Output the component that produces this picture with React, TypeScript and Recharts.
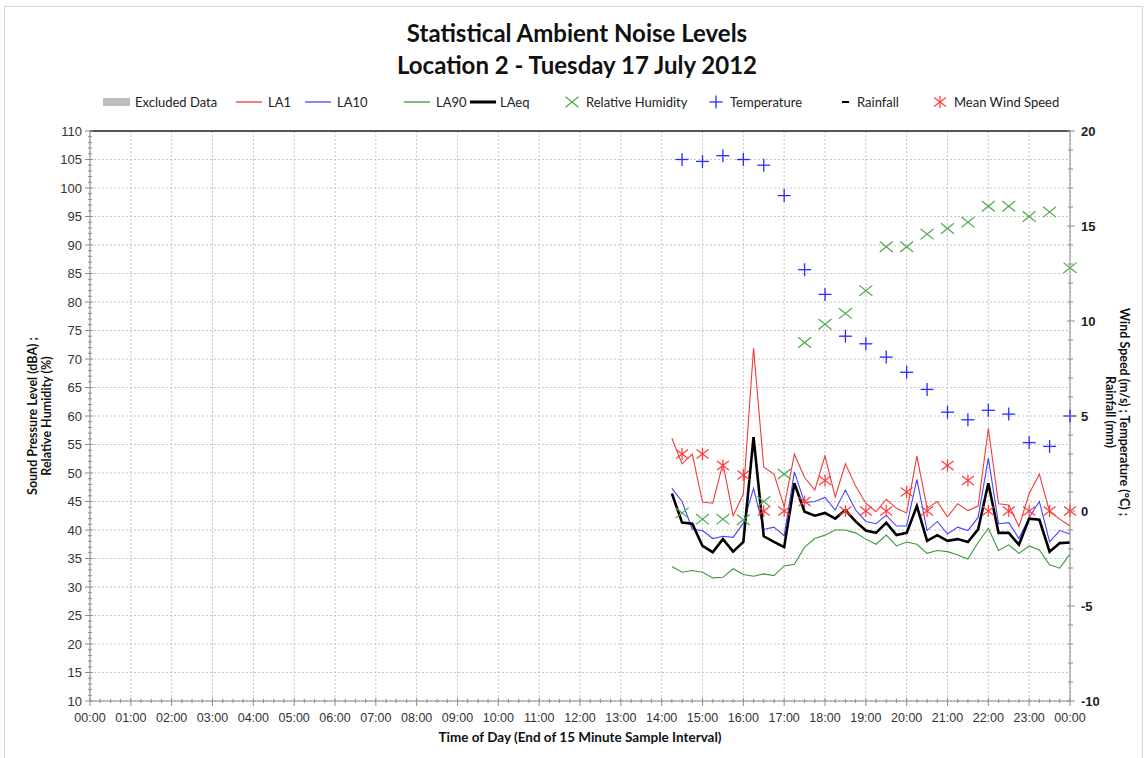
import React from "react";
import { ComposedChart, Line, Scatter, XAxis, YAxis, CartesianGrid, ReferenceLine } from "recharts";

// ---- Data ----
const noiseTimes = [
  "14:15", "14:30", "14:45", "15:00", "15:15", "15:30", "15:45", "16:00", "16:15", "16:30",
  "16:45", "17:00", "17:15", "17:30", "17:45", "18:00", "18:15", "18:30", "18:45", "19:00",
  "19:15", "19:30", "19:45", "20:00", "20:15", "20:30", "20:45", "21:00", "21:15", "21:30",
  "21:45", "22:00", "22:15", "22:30", "22:45", "23:00", "23:15", "23:30", "23:45", "24:00",
];
const la1 = [
  56.1, 51.6, 53.3, 44.9, 44.7, 51.7, 42.5, 46.3, 71.9, 51.0, 49.8, 44.1, 53.3, 49.2,
  47.0, 53.0, 45.8, 51.6, 47.7, 44.7, 43.2, 45.4, 43.8, 43.0, 53.0, 43.8, 45.0,
  42.3, 44.6, 43.4, 44.2, 57.8, 44.6, 44.4, 40.6, 46.4, 49.8, 43.2, 41.9, 40.7,
];
const la10 = [
  47.3, 45.0, 40.1, 39.9, 38.5, 38.9, 38.7, 41.2, 47.3, 40.1, 40.5, 39.0, 50.2, 44.8,
  45.0, 45.7, 43.5, 47.0, 43.5, 41.5, 41.1, 42.6, 40.7, 40.7, 48.9, 39.9, 41.5,
  39.3, 40.5, 39.9, 42.2, 52.6, 41.1, 41.3, 38.5, 42.2, 45.0, 37.9, 39.9, 39.3,
];
const la90 = [
  33.6, 32.6, 32.9, 32.6, 31.6, 31.7, 33.2, 32.2, 31.9, 32.3, 32.0, 33.7, 34.0, 37.0,
  38.5, 39.1, 40.0, 40.0, 39.5, 38.4, 37.5, 39.1, 37.2, 37.9, 37.5, 35.9, 36.4,
  36.2, 35.6, 34.9, 37.8, 40.3, 36.4, 37.4, 35.9, 37.2, 36.5, 33.9, 33.3, 35.8,
];
const laeq = [
  46.4, 41.3, 41.1, 37.2, 36.1, 38.4, 36.2, 37.9, 56.3, 38.9, 37.9, 37.0, 48.2, 43.2,
  42.5, 43.0, 42.0, 43.5, 41.5, 39.9, 39.5, 41.3, 39.1, 39.5, 44.2, 38.1, 39.1,
  38.1, 38.4, 37.9, 40.1, 48.2, 39.5, 39.5, 37.4, 42.0, 41.8, 36.2, 37.7, 37.8,
];

const weatherTimes = [
  "14:30", "15:00", "15:30", "16:00", "16:30", "17:00", "17:30", "18:00", "18:30", "19:00",
  "19:30", "20:00", "20:30", "21:00", "21:30", "22:00", "22:30", "23:00", "23:30", "24:00",
];
const humidity = [43.0, 41.9, 41.9, 41.8, 45.0, 49.8, 72.9, 76.1, 78.0, 82.0, 89.7, 89.7, 91.9, 92.9, 94.0, 96.8, 96.8, 95.0, 95.8, 86.0];
const temperature = [18.5, 18.4, 18.7, 18.5, 18.2, 16.6, 12.7, 11.4, 9.2, 8.8, 8.1, 7.3, 6.4, 5.2, 4.8, 5.3, 5.1, 3.6, 3.4, 5.0];
const windSpeed = [3.0, 3.0, 2.4, 1.9, 0.0, 0.0, 0.5, 1.6, 0.0, 0.0, 0.0, 1.0, 0.0, 2.4, 1.6, 0.0, 0.0, 0.0, 0.0, 0.0];

const hourLabels = [
  "00:00", "01:00", "02:00", "03:00", "04:00", "05:00", "06:00", "07:00", "08:00", "09:00",
  "10:00", "11:00", "12:00", "13:00", "14:00", "15:00", "16:00", "17:00", "18:00", "19:00",
  "20:00", "21:00", "22:00", "23:00", "00:00",
];

const toHours = (s: string) => {
  const [h, m] = s.split(":").map(Number);
  return h + m / 60;
};

const noiseData = noiseTimes.map((s, i) => ({
  t: toHours(s),
  la1: la1[i],
  la10: la10[i],
  la90: la90[i],
  laeq: laeq[i],
}));
const weatherData = weatherTimes.map((s, i) => ({
  t: toHours(s),
  rh: humidity[i],
  temp: temperature[i],
  wind: windSpeed[i],
}));

// axis tick positions
const xTicks: number[] = [];
for (let q = 0; q <= 96; q++) xTicks.push(q / 4);
const hourValues: number[] = [];
for (let h = 0; h <= 24; h++) hourValues.push(h);
const leftTicks: number[] = [];
for (let v = 10; v <= 110; v++) leftTicks.push(v);
const leftMajor: number[] = [];
for (let v = 10; v <= 110; v += 5) leftMajor.push(v);
const rightTicks: number[] = [];
for (let v = -10; v <= 20; v++) rightTicks.push(v);

const AXIS = "#8c8c8c";
const TICKFONT = "'Liberation Sans', Arial, sans-serif";
const CAL = "Lato, 'Open Sans', sans-serif";

const LA1_COLOR = "#ee3b3b";
const LA10_COLOR = "#4444ff";
const LA90_COLOR = "#3a9a3a";

const XTick = (props: any) => {
  const { x, y, payload } = props;
  const v = payload.value as number;
  const major = Math.abs(v - Math.round(v)) < 1e-6;
  if (!major) return <line x1={x} x2={x} y1={y - 2} y2={y + 2} stroke={AXIS} />;
  return (
    <g>
      <line x1={x} x2={x} y1={y - 3} y2={y + 5} stroke={AXIS} />
      <text x={x} y={y + 21} textAnchor="middle" fontSize={12.5} fill="#333" fontFamily={TICKFONT}>
        {hourLabels[Math.round(v)]}
      </text>
    </g>
  );
};

const LeftTick = (props: any) => {
  const { x, y, payload } = props;
  const v = payload.value as number;
  const major = v % 5 === 0;
  if (!major) return <line x1={x - 2} x2={x + 2} y1={y} y2={y} stroke={AXIS} />;
  return (
    <g>
      <line x1={x - 5} x2={x + 3} y1={y} y2={y} stroke={AXIS} />
      <text x={x - 8} y={y + 4.5} textAnchor="end" fontSize={13} fill="#333" fontFamily={TICKFONT}>
        {v}
      </text>
    </g>
  );
};

const RightTick = (props: any) => {
  const { x, y, payload } = props;
  const v = payload.value as number;
  const major = v % 5 === 0;
  if (!major) return <line x1={x - 2} x2={x + 3} y1={y} y2={y} stroke={AXIS} />;
  return (
    <g>
      <line x1={x - 3} x2={x + 5} y1={y} y2={y} stroke={AXIS} />
      <text x={x + 11} y={y + 4.5} textAnchor="start" fontSize={13} fontWeight="bold" fill="#222" fontFamily={TICKFONT}>
        {v}
      </text>
    </g>
  );
};

const RH_COLOR = "#4ea84e";
const T_COLOR = "#2b2bff";
const W_COLOR = "#ff3b3b";

const XMark = (p: any) => {
  const { cx, cy } = p;
  if (cx == null || cy == null) return null;
  const s = 6.5;
  return (
    <g stroke={RH_COLOR} strokeWidth={1.2}>
      <line x1={cx - s} y1={cy - s * 0.8} x2={cx + s} y2={cy + s * 0.8} />
      <line x1={cx - s} y1={cy + s * 0.8} x2={cx + s} y2={cy - s * 0.8} />
    </g>
  );
};
const PlusMark = (p: any) => {
  const { cx, cy } = p;
  if (cx == null || cy == null) return null;
  const s = 6.5;
  return (
    <g stroke={T_COLOR} strokeWidth={1.3}>
      <line x1={cx - s} y1={cy} x2={cx + s} y2={cy} />
      <line x1={cx} y1={cy - s} x2={cx} y2={cy + s} />
    </g>
  );
};
const StarMark = (p: any) => {
  const { cx, cy } = p;
  if (cx == null || cy == null) return null;
  const s = 6;
  return (
    <g stroke={W_COLOR} strokeWidth={1.2}>
      <line x1={cx - s} y1={cy - s * 0.75} x2={cx + s} y2={cy + s * 0.75} />
      <line x1={cx - s} y1={cy + s * 0.75} x2={cx + s} y2={cy - s * 0.75} />
      <line x1={cx} y1={cy - s} x2={cx} y2={cy + s} />
    </g>
  );
};

const legendText: React.CSSProperties = {
  position: "absolute",
  top: 93,
  fontFamily: CAL,
  fontSize: 13,
  color: "#222",
  lineHeight: "18px",
  whiteSpace: "nowrap",
};

const Legend = () => (
  <>
    <svg style={{ position: "absolute", left: 0, top: 90, overflow: "visible" }} width={1148} height={24}>
      <rect x={103} y={8} width={27} height={8} fill="#bdbdbd" />
      <line x1={236} x2={262} y1={12} y2={12} stroke={LA1_COLOR} strokeWidth={1.3} />
      <line x1={305} x2={331} y1={12} y2={12} stroke={LA10_COLOR} strokeWidth={1.3} />
      <line x1={404} x2={430} y1={12} y2={12} stroke={LA90_COLOR} strokeWidth={1.3} />
      <line x1={470} x2={496} y1={12} y2={12} stroke="#000" strokeWidth={3} />
      <XMark cx={572} cy={12} />
      <PlusMark cx={716} cy={12} />
      <line x1={842} x2={849} y1={12} y2={12} stroke="#000" strokeWidth={2} />
      <StarMark cx={940} cy={12} />
    </svg>
    <div style={{ ...legendText, left: 135 }}>Excluded Data</div>
    <div style={{ ...legendText, left: 268 }}>LA1</div>
    <div style={{ ...legendText, left: 337 }}>LA10</div>
    <div style={{ ...legendText, left: 436 }}>LA90</div>
    <div style={{ ...legendText, left: 500 }}>LAeq</div>
    <div style={{ ...legendText, left: 586 }}>Relative Humidity</div>
    <div style={{ ...legendText, left: 730 }}>Temperature</div>
    <div style={{ ...legendText, left: 857 }}>Rainfall</div>
    <div style={{ ...legendText, left: 954 }}>Mean Wind Speed</div>
  </>
);

const axisTitle: React.CSSProperties = {
  position: "absolute",
  fontFamily: CAL,
  fontWeight: "bold",
  fontSize: 12.5,
  lineHeight: "14px",
  textAlign: "center",
  whiteSpace: "nowrap",
  color: "#111",
};

export default function App() {
  return (
    <div style={{ position: "absolute", left: 0, top: 0, width: 1148, height: 758, overflow: "hidden", background: "#fff" }}>
      <div style={{ position: "absolute", left: 4, top: 6, width: 1137, height: 800, border: "1px solid #d6d6d6" }} />
      <div
        style={{
          position: "absolute",
          left: 0,
          top: 17,
          width: 1154,
          textAlign: "center",
          fontFamily: CAL,
          fontWeight: "bold",
          fontSize: 24,
          lineHeight: "32px",
          color: "#111",
        }}
      >
        <div>Statistical Ambient Noise Levels</div>
        <div>Location 2 - Tuesday 17 July 2012</div>
      </div>
      <Legend />

      <div style={{ position: "absolute", left: 0, top: 0 }}>
        <ComposedChart width={1148} height={758} data={noiseData} margin={{ top: 131, right: 28, bottom: 27, left: 30 }}>
          <CartesianGrid
            strokeDasharray="2 2"
            stroke="#c4c4c4"
            verticalValues={hourValues}
            horizontalValues={leftMajor}
          />
          <XAxis
            dataKey="t"
            type="number"
            domain={[0, 24]}
            ticks={xTicks}
            interval={0}
            tick={<XTick />}
            tickLine={false}
            tickSize={0}
            tickMargin={0}
            axisLine={{ stroke: AXIS }}
            height={30}
          />
          <YAxis
            type="number"
            domain={[10, 110]}
            ticks={leftTicks}
            interval={0}
            tick={<LeftTick />}
            tickLine={false}
            tickSize={0}
            tickMargin={0}
            axisLine={{ stroke: AXIS }}
            width={60}
          />
          <YAxis
            yAxisId="right"
            orientation="right"
            type="number"
            domain={[-10, 20]}
            ticks={rightTicks}
            interval={0}
            tick={<RightTick />}
            tickLine={false}
            tickSize={0}
            tickMargin={0}
            axisLine={{ stroke: AXIS }}
            width={50}
          />
          <ReferenceLine y={110} stroke="#222" strokeWidth={1.3} />
          <Line dataKey="la90" stroke={LA90_COLOR} strokeWidth={1.1} dot={false} isAnimationActive={false} type="linear" />
          <Line dataKey="la10" stroke={LA10_COLOR} strokeWidth={1.1} dot={false} isAnimationActive={false} type="linear" />
          <Line dataKey="la1" stroke={LA1_COLOR} strokeWidth={1.1} dot={false} isAnimationActive={false} type="linear" />
          <Line dataKey="laeq" stroke="#000" strokeWidth={2.6} dot={false} isAnimationActive={false} type="linear" />
          <Scatter data={weatherData} dataKey="rh" shape={XMark} isAnimationActive={false} />
          <Scatter data={weatherData} dataKey="temp" yAxisId="right" shape={PlusMark} isAnimationActive={false} />
          <Scatter data={weatherData} dataKey="wind" yAxisId="right" shape={StarMark} isAnimationActive={false} />
        </ComposedChart>
      </div>

      <div style={{ ...axisTitle, left: 40, top: 416, transform: "translate(-50%, -50%) rotate(-90deg)" }}>
        <div>Sound Pressure Level (dBA) ;</div>
        <div>Relative Humidity (%)</div>
      </div>
      <div style={{ ...axisTitle, left: 1117, top: 412, transform: "translate(-50%, -50%) rotate(90deg)" }}>
        <div>Wind Speed (m/s) ; Temperature (°C) ;</div>
        <div>Rainfall (mm)</div>
      </div>
      <div style={{ ...axisTitle, left: 580, top: 737, fontSize: 13.5, transform: "translate(-50%, -50%)" }}>
        Time of Day (End of 15 Minute Sample Interval)
      </div>
    </div>
  );
}
